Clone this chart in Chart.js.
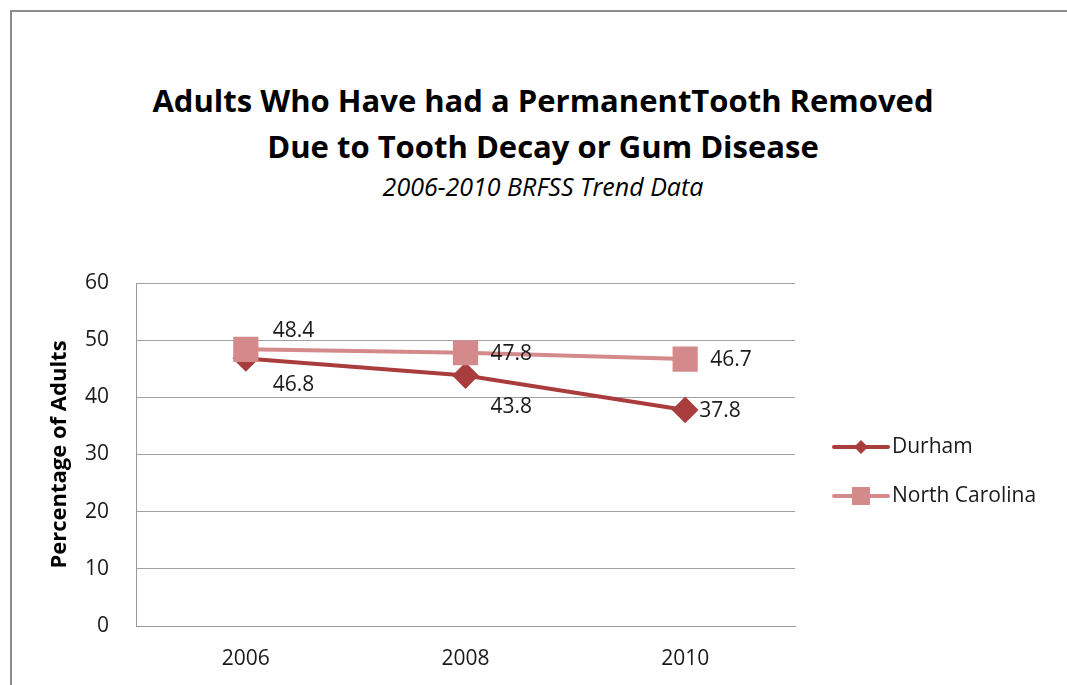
<!DOCTYPE html>
<html><head><meta charset="utf-8">
<script src="https://cdn.jsdelivr.net/npm/chart.js@4/dist/chart.umd.min.js"></script>
<style>
html,body{margin:0;padding:0;background:#fff;}
#wrap{position:relative;width:1067px;height:685px;overflow:hidden;}
#frame{position:absolute;left:10px;top:10px;width:1100px;height:720px;border:2px solid #8c8c8c;box-sizing:border-box;}
canvas{position:absolute;left:0;top:0;}
.t{position:absolute;left:0;width:1086px;text-align:center;color:#000;font-family:"Open Sans",sans-serif;white-space:nowrap;}
</style></head>
<body><div id="wrap"><div id="frame"></div>
<div class="t" style="top:79px;font-weight:bold;font-size:31px;line-height:42px;">Adults Who Have had a PermanentTooth Removed</div>
<div class="t" style="top:125px;font-weight:bold;font-size:31px;line-height:42px;">Due to Tooth Decay or Gum Disease</div>
<div class="t" style="top:169px;font-style:italic;font-size:25px;line-height:35px;">2006-2010 BRFSS Trend Data</div>
<canvas id="c" width="1067" height="685"></canvas></div>
<script>
const categories = ["2006", "2008", "2010"];
const durham = [46.8, 43.8, 37.8];
const northCarolina = [48.4, 47.8, 46.7];
const yTicks = [0, 10, 20, 30, 40, 50, 60];

const FONT = '"Open Sans", sans-serif';
// label placement offsets (style only): [dx, dy]
const labelStyle = {
  0: [[27, 27], [25, 31], [14, 1]],
  1: [[27, -18], [25, 1], [25, 1]]
};

const labelPlugin = {
  id: 'vals',
  afterDatasetsDraw(chart) {
    const ctx = chart.ctx;
    ctx.save();
    ctx.font = '21px ' + FONT;
    ctx.fillStyle = '#1a1a1a';
    ctx.textBaseline = 'middle';
    ctx.textAlign = 'left';
    chart.data.datasets.forEach((ds, di) => {
      const meta = chart.getDatasetMeta(di);
      meta.data.forEach((pt, i) => {
        const s = labelStyle[di][i];
        ctx.fillText(ds.data[i].toFixed(1), pt.x + s[0], pt.y + s[1]);
      });
    });
    ctx.restore();
  }
};

const legendPlugin = {
  id: 'customLegend',
  afterDraw(chart) {
    const ctx = chart.ctx;
    ctx.save();
    const x0 = 834, x1 = 888, ys = [447, 496];
    chart.data.datasets.forEach((ds, di) => {
      const y = ys[di];
      ctx.strokeStyle = ds.borderColor;
      ctx.lineWidth = ds.borderWidth;
      ctx.lineCap = 'round';
      ctx.beginPath(); ctx.moveTo(x0, y); ctx.lineTo(x1, y); ctx.stroke();
      ctx.fillStyle = ds.pointBackgroundColor;
      const cx = (x0 + x1) / 2;
      if (ds.pointStyle === 'rectRot') {
        const r = 7;
        ctx.beginPath(); ctx.moveTo(cx, y - r); ctx.lineTo(cx + r, y); ctx.lineTo(cx, y + r); ctx.lineTo(cx - r, y); ctx.closePath(); ctx.fill();
      } else {
        ctx.fillRect(cx - 9, y - 9, 18, 18);
      }
      ctx.fillStyle = '#1a1a1a';
      ctx.font = '21px ' + FONT;
      ctx.textAlign = 'left';
      ctx.textBaseline = 'middle';
      ctx.fillText(ds.label, x1 + 4, y);
    });
    ctx.restore();
  }
};

new Chart(document.getElementById('c'), {
  type: 'line',
  data: {
    labels: categories,
    datasets: [
      { label: 'Durham', data: durham, order: 1, borderColor: '#A93D3D', backgroundColor: '#A93D3D',
        pointBackgroundColor: '#A93D3D', pointBorderColor: '#A93D3D', borderWidth: 4,
        pointStyle: 'rectRot', pointRadius: 10.5, pointHoverRadius: 10.5, tension: 0 },
      { label: 'North Carolina', data: northCarolina, order: 0, borderColor: '#D48A8A', backgroundColor: '#D48A8A',
        pointBackgroundColor: '#D48A8A', pointBorderColor: '#D48A8A', borderWidth: 4,
        pointStyle: 'rect', pointRadius: 15, pointHoverRadius: 15, tension: 0 }
    ]
  },
  options: {
    responsive: false,
    animation: false,
    layout: { padding: { left: 47, right: 272, top: 283, bottom: 0 } },
    plugins: { legend: { display: false }, title: { display: false }, tooltip: { enabled: false } },
    scales: {
      x: {
        offset: true,
        grid: { display: false, drawTicks: false },
        border: { display: true, color: '#999', width: 1 },
        ticks: { color: '#1a1a1a', font: { family: FONT, size: 21 }, padding: 20 },
        afterFit(s) { s.height = 59; }
      },
      y: {
        min: 0, max: 60,
        afterBuildTicks(s) { s.ticks = yTicks.map(v => ({ value: v })); },
        grid: { color: '#a0a0a0', lineWidth: 1, drawTicks: false },
        border: { display: true, color: '#999', width: 1 },
        ticks: { color: '#1a1a1a', font: { family: FONT, size: 21 }, padding: 27 },
        title: { display: true, text: 'Percentage of Adults', color: '#000', font: { family: FONT, size: 22, weight: 'bold' }, padding: 0 },
        afterFit(s) { s.width = 89; }
      }
    }
  },
  plugins: [labelPlugin, legendPlugin]
});
</script></body></html>
